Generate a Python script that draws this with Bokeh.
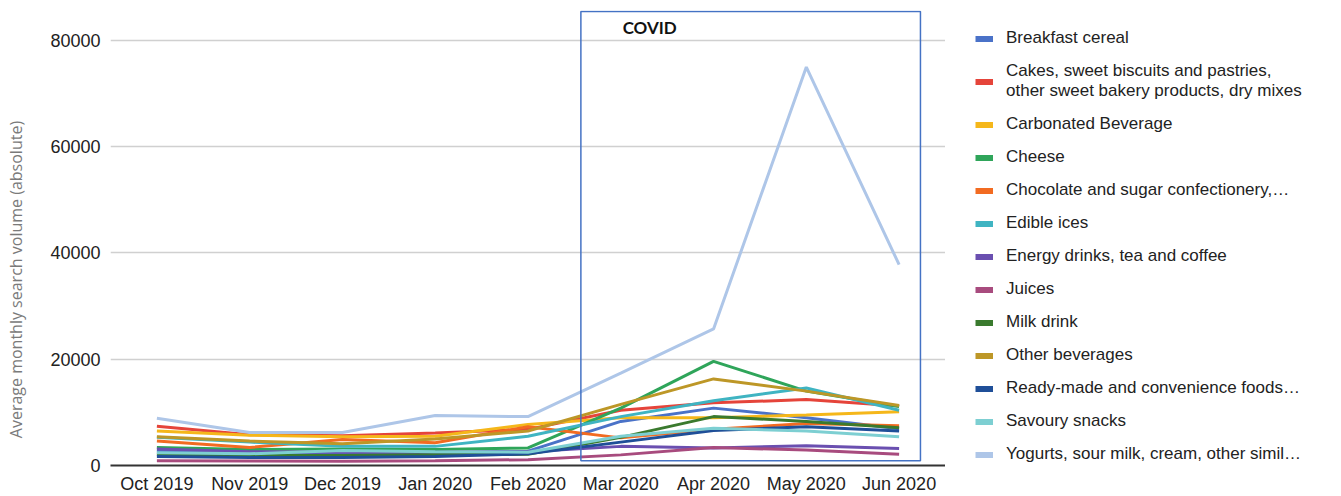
from bokeh.plotting import figure
from bokeh.models import (FactorRange, Range1d, FixedTicker, Legend, LegendItem,
                          Label, ColumnDataSource)
from bokeh.layouts import row
from bokeh.embed import file_html
from bokeh.resources import INLINE

months = ["Oct 2019", "Nov 2019", "Dec 2019", "Jan 2020", "Feb 2020",
          "Mar 2020", "Apr 2020", "May 2020", "Jun 2020"]

names = [
    "Breakfast cereal",
    "Cakes, sweet biscuits and pastries,\nother sweet bakery products, dry mixes",
    "Carbonated Beverage",
    "Cheese",
    "Chocolate and sugar confectionery,\u2026",
    "Edible ices",
    "Energy drinks, tea and coffee",
    "Juices",
    "Milk drink",
    "Other beverages",
    "Ready-made and convenience foods\u2026",
    "Savoury snacks",
    "Yogurts, sour milk, cream, other simil\u2026",
]

breakfast_cereal = [2700, 2300, 2200, 2300, 2700, 8300, 10800, 9000, 6900]
cakes = [7400, 5800, 5600, 6100, 6800, 10400, 11800, 12400, 11200]
carbonated = [6500, 5700, 5400, 5500, 7700, 9000, 9000, 9500, 10100]
cheese = [3400, 3000, 3100, 3000, 3300, 10800, 19600, 14000, 11100]
chocolate = [4600, 3400, 4900, 4300, 7300, 5200, 6800, 7900, 7500]
edible_ices = [5300, 4400, 3600, 3600, 5500, 9200, 12200, 14600, 10400]
energy_drinks = [3100, 2600, 2500, 2500, 2600, 3600, 3300, 3700, 3200]
juices = [900, 850, 800, 900, 1100, 2000, 3400, 2900, 2100]
milk_drink = [2100, 1900, 1900, 2000, 2100, 5300, 9200, 8300, 7100]
other_beverages = [5400, 4600, 4100, 5000, 6500, 11500, 16300, 14000, 11300]
ready_made = [1700, 1500, 1500, 1700, 2200, 4400, 6600, 7300, 6500]
savoury_snacks = [2400, 2200, 2800, 2600, 2500, 5500, 7000, 6500, 5400]
yogurts = [8900, 6200, 6200, 9400, 9200, 17400, 25700, 75000, 37800]

series = [breakfast_cereal, cakes, carbonated, cheese, chocolate, edible_ices,
          energy_drinks, juices, milk_drink, other_beverages, ready_made,
          savoury_snacks, yogurts]

colors = ["#4a72c8", "#e5443a", "#f5b71a", "#2fa55a", "#f26b21", "#3fb4c2",
          "#6a4fb0", "#a84b7e", "#3a7a2e", "#bd9727", "#1f4f98", "#7dcfd2",
          "#aec6e8"]

y_ticks = [0, 20000, 40000, 60000, 80000]
y_label = "Average monthly search volume (absolute)"

# COVID highlight box (annotation), in axis coordinates
covid_left = 5.07
covid_right = 8.73
covid_bottom = 900
covid_top = 85450

p = figure(width=945, height=496, x_range=FactorRange(*months),
           y_range=Range1d(0, 85640), output_backend="svg",
           toolbar_location=None, min_border_left=110, min_border_right=0,
           min_border_top=10, min_border_bottom=0)
p.outline_line_color = None
p.background_fill_color = "white"

p.xgrid.grid_line_color = None
p.ygrid.grid_line_color = "#d0d0d0"
p.ygrid.grid_line_width = 1.5
p.yaxis.ticker = FixedTicker(ticks=y_ticks)

p.yaxis.axis_line_color = None
p.yaxis.major_tick_line_color = None
p.yaxis.minor_tick_line_color = None
p.yaxis.major_tick_out = 0
p.yaxis.minor_tick_out = 0
p.yaxis.major_label_standoff = 10
p.yaxis.major_label_text_font = "Liberation Sans"
p.yaxis.major_label_text_font_size = "18px"
p.yaxis.major_label_text_color = "#222222"
# trailing no-break spaces shift the centred label toward the bottom, as in the original
p.yaxis.axis_label = y_label + "\u00a0" * 20
p.yaxis.axis_label_standoff = 20
p.yaxis.axis_label_text_font = "Open Sans"
p.yaxis.axis_label_text_font_size = "16px"
p.yaxis.axis_label_text_font_style = "normal"
p.yaxis.axis_label_text_color = "#7a7a7a"

p.xaxis.axis_line_color = "#333333"
p.xaxis.axis_line_width = 2
p.xaxis.major_tick_line_color = None
p.xaxis.minor_tick_line_color = None
p.xaxis.major_tick_out = 0
p.xaxis.minor_tick_out = 0
p.xaxis.major_label_standoff = 8
p.xaxis.major_label_text_font = "Liberation Sans"
p.xaxis.major_label_text_font_size = "18px"
p.xaxis.major_label_text_color = "#222222"

# legend lives in its own panel figure to the right
pl = figure(width=384, height=496, x_range=FactorRange(*months),
            y_range=Range1d(0, 85640), output_backend="svg",
            toolbar_location=None, x_axis_type=None, y_axis_type=None,
            min_border=0)
pl.outline_line_color = None
pl.xgrid.grid_line_color = None
pl.ygrid.grid_line_color = None

items = []
for name, vals, c in zip(names, series, colors):
    src = ColumnDataSource(dict(x=months, y=vals))
    p.line("x", "y", source=src, line_color=c, line_width=3)
    proxy = pl.line("x", "y", source=src, line_color=c, line_width=6, visible=False)
    items.append(LegendItem(label=name, renderers=[proxy]))

p.quad(left=[covid_left], right=[covid_right], bottom=[covid_bottom], top=[covid_top],
       fill_color=None, line_color="#4472c4", line_width=1.5)

p.add_layout(Label(x=5.52, y=82450, text="COVID", text_font="Lato",
                   text_font_style="bold", text_font_size="17px",
                   text_color="#111111", text_baseline="middle", text_align="left"))

legend = Legend(items=items, location="top_left", orientation="vertical",
                glyph_width=18, glyph_height=19, label_height=19,
                label_standoff=13, spacing=13, padding=0, margin=18,
                label_text_font="Liberation Sans", label_text_font_size="17px",
                label_text_color="#222222", border_line_color=None,
                background_fill_alpha=0)
pl.add_layout(legend)

layout = row(p, pl, spacing=12)
open("out.html", "w").write(file_html(layout, INLINE))
